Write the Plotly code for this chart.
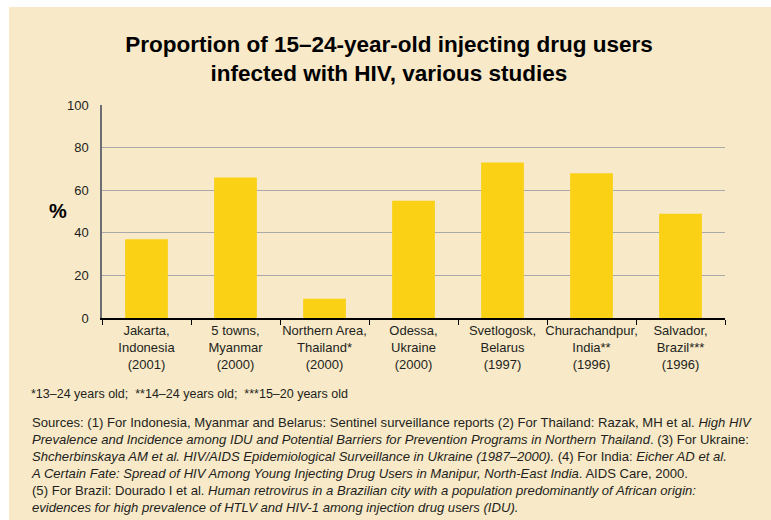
import plotly.graph_objects as go

# Study sites (x axis) and share of 15-24-year-old IDUs infected with HIV (%)
sites = [
    "Jakarta,<br>Indonesia<br>(2001)",
    "5 towns,<br>Myanmar<br>(2000)",
    "Northern Area,<br>Thailand*<br>(2000)",
    "Odessa,<br>Ukraine<br>(2000)",
    "Svetlogosk,<br>Belarus<br>(1997)",
    "Churachandpur,<br>India**<br>(1996)",
    "Salvador,<br>Brazil***<br>(1996)",
]
hiv_percent = [37, 66, 9, 55, 73, 68, 49]
y_ticks = [0, 20, 40, 60, 80, 100]

age_note = "*13–24 years old;  **14–24 years old;  ***15–20 years old"
sources_note = (
    "Sources: (1) For Indonesia, Myanmar and Belarus: Sentinel surveillance reports (2) For Thailand: Razak, MH et al. "
    "<i>High HIV</i><br><i>Prevalence and Incidence among IDU and Potential Barriers for Prevention Programs in Northern Thailand</i>. "
    "(3) For Ukraine:<br><i>Shcherbinskaya AM et al. HIV/AIDS Epidemiological Surveillance in Ukraine (1987–2000). </i>"
    "(4) For India: <i>Eicher AD et al.</i><br><i>A Certain Fate: Spread of HIV Among Young Injecting Drug Users in Manipur, North-East India</i>. "
    "AIDS Care, 2000.<br>(5) For Brazil: Dourado I et al. <i>Human retrovirus in a Brazilian city with a population predominantly of African origin:</i>"
    "<br><i>evidences for high prevalence of HTLV and HIV-1 among injection drug users (IDU).</i>"
)

W, H = 771, 520
L, R, T, B = 102, 46, 105, 202
PW, PH = W - L - R, H - T - B


def px(x):
    return (x - L) / PW


def py(y):
    return 1 - (y - T) / PH


SANS = "Liberation Sans, Arial, sans-serif"
BEIGE = "#F8E9C8"
TEXT = "#231F20"

fig = go.Figure(
    go.Bar(
        x=sites,
        y=hiv_percent,
        marker=dict(color="#FBD116", line=dict(width=0)),
        width=0.48,
    )
)

fig.update_layout(
    width=W,
    height=H,
    margin=dict(l=L, r=R, t=T, b=B),
    paper_bgcolor="white",
    plot_bgcolor="white",
    showlegend=False,
    title=dict(
        text="<b>Proportion of 15–24-year-old injecting drug users<br>infected with HIV, various studies</b>",
        xref="container",
        x=389 / W,
        xanchor="center",
        y=1 - 52 / H,
        yanchor="middle",
        font=dict(family=SANS, size=22.5, color="#000"),
    ),
    font=dict(family=SANS, color=TEXT),
    shapes=[
        dict(
            type="rect",
            xref="paper",
            yref="paper",
            x0=px(9),
            x1=px(W + 2),
            y0=py(7),
            y1=py(H + 2),
            fillcolor=BEIGE,
            line=dict(width=0),
            layer="below",
        )
    ],
)

fig.update_xaxes(
    showgrid=False,
    showline=True,
    linecolor="#000",
    linewidth=1.5,
    ticks="outside",
    tickson="boundaries",
    ticklen=5,
    tickcolor="#000",
    tickangle=0,
    tickfont=dict(family=SANS, size=13, color=TEXT),
)

fig.update_yaxes(
    range=[0, 100],
    tickvals=y_ticks,
    showgrid=True,
    gridcolor="#A9A9AB",
    gridwidth=1,
    zeroline=False,
    showline=True,
    linecolor="#6D6E71",
    linewidth=1.5,
    ticks="",
    ticklabelstandoff=9,
    tickfont=dict(family=SANS, size=13, color=TEXT),
)

fig.add_annotation(
    text="<b>%</b>", x=px(47), y=py(211), xref="paper", yref="paper",
    showarrow=False, font=dict(family=SANS, size=20, color="#000"),
)
fig.add_annotation(
    text=age_note, x=px(29), y=py(394), xref="paper", yref="paper",
    xanchor="left", yanchor="middle", align="left", showarrow=False,
    font=dict(family=SANS, size=12.5, color=TEXT),
)
fig.add_annotation(
    text=sources_note, x=px(29), y=py(413), xref="paper", yref="paper",
    xanchor="left", yanchor="top", align="left", showarrow=False,
    font=dict(family=SANS, size=13.1, color=TEXT),
)

fig.write_html("out.html")
